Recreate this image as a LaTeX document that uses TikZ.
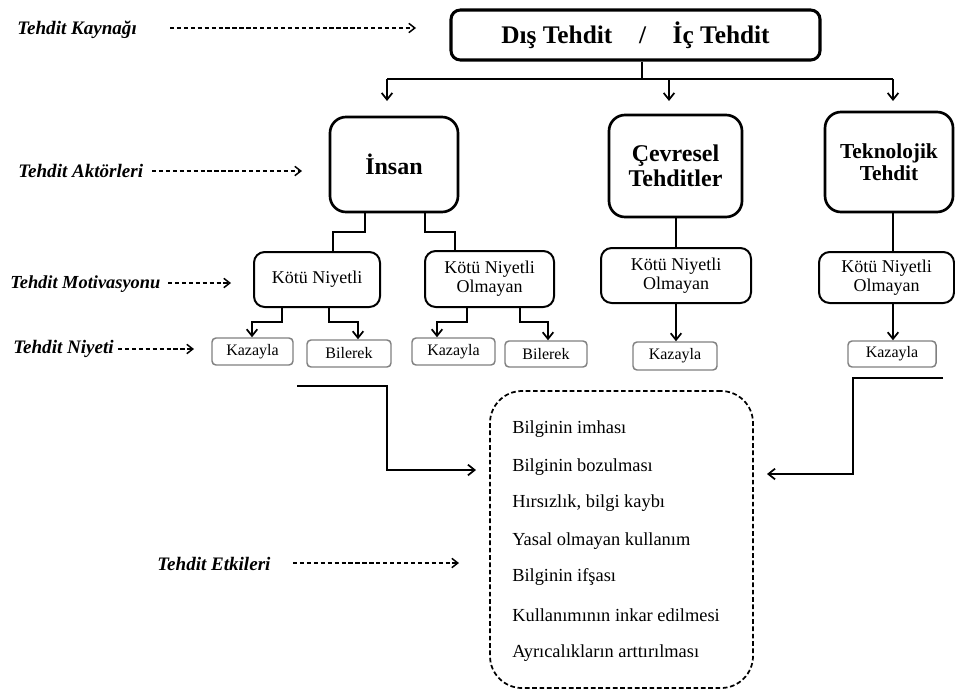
\documentclass[tikz,border=0pt]{standalone}
\usepackage{fontspec}
\setmainfont{Liberation Serif}
\usetikzlibrary{arrows.meta,calc}
\begin{document}
\begin{tikzpicture}[x=0.75pt,y=-0.75pt,
  conn/.style={line width=1.5pt,line join=miter},
  arr/.style={conn,-{Straight Barb[length=5pt,width=8pt,line width=1.3pt]}},
  dasharr/.style={line width=1.1pt,dash pattern=on 3.2pt off 2pt,-{Straight Barb[length=4.5pt,width=7pt,line width=1.1pt]}},
  titlebox/.style={draw,line width=2.3pt,rounded corners=7pt,inner sep=0pt,font=\fontsize{19}{21}\selectfont\bfseries},
  actorbox/.style={draw,line width=2pt,rounded corners=12pt,inner sep=0pt,align=center},
  motbox/.style={draw,line width=1.5pt,rounded corners=8pt,inner sep=0pt,align=center,font=\fontsize{13.5}{14.5}\selectfont},
  intbox/.style={draw=black!50,line width=1.1pt,rounded corners=3pt,inner sep=0pt,font=\fontsize{12}{13}\selectfont},
  effbox/.style={draw,line width=1.3pt,dash pattern=on 3.5pt off 2pt,rounded corners=24pt,inner sep=0pt},
  efftext/.style={anchor=west,inner sep=0pt,font=\fontsize{13.8}{15}\selectfont},
  lab/.style={anchor=west,inner sep=0pt,font=\fontsize{14.3}{15}\selectfont\bfseries\itshape}]
\useasboundingbox (0,0) rectangle (955,693);

% ---- main boxes
\node[titlebox,minimum width=276.75pt,minimum height=37.5pt] (title) at (635.5,35) {Dış Tehdit\hspace{20pt}/\hspace{20pt}İç Tehdit};
\node[actorbox,minimum width=96pt,minimum height=71.25pt,font=\fontsize{18}{20}\selectfont\bfseries] (insan) at (394,164.5) {İnsan};
\node[actorbox,minimum width=99.75pt,minimum height=76.5pt,font=\fontsize{18}{19}\selectfont\bfseries] (cev) at (675.5,166) {Çevresel\\Tehditler};
\node[actorbox,minimum width=96pt,minimum height=75pt,font=\fontsize{16}{16.5}\selectfont\bfseries] (tek) at (889,162) {Teknolojik\\Tehdit};

\node[motbox,minimum width=94.5pt,minimum height=41.25pt] (kn) at (317,279.5) {Kötü Niyetli};
\node[motbox,minimum width=96.75pt,minimum height=42pt] (kno1) at (489.5,279) {Kötü Niyetli\\Olmayan};
\node[motbox,minimum width=112.5pt,minimum height=41.25pt] (kno3) at (676,275.5) {Kötü Niyetli\\Olmayan};
\node[motbox,minimum width=101.25pt,minimum height=38.25pt] (kno4) at (886.5,277.5) {Kötü Niyetli\\Olmayan};

\node[intbox,minimum width=60.75pt,minimum height=20.25pt] (kaz1) at (252.5,351.5) {Kazayla};
\node[intbox,minimum width=63pt,minimum height=20.25pt] (bil1) at (349,353.5) {Bilerek};
\node[intbox,minimum width=62.25pt,minimum height=20.25pt] (kaz2) at (453.5,351.5) {Kazayla};
\node[intbox,minimum width=61.5pt,minimum height=19.5pt] (bil2) at (546,354) {Bilerek};
\node[intbox,minimum width=63pt,minimum height=21pt] (kaz3) at (675,356) {Kazayla};
\node[intbox,minimum width=66pt,minimum height=19.5pt] (kaz4) at (892,354) {Kazayla};

\node[effbox,minimum width=197.25pt,minimum height=222.75pt] (eff) at (621.5,539.5) {};
\node[efftext] (e1) at (512,429) {Bilginin imhası};
\node[efftext] (e2) at (512,467) {Bilginin bozulması};
\node[efftext] (e3) at (512,503) {Hırsızlık, bilgi kaybı};
\node[efftext] (e4) at (512,541) {Yasal olmayan kullanım};
\node[efftext] (e5) at (512,577) {Bilginin ifşası};
\node[efftext] (e6) at (512,615) {Kullanımının inkar edilmesi};
\node[efftext] (e7) at (512,653) {Ayrıcalıkların arttırılması};

% ---- left labels
\node[lab] (l1) at (17,30) {Tehdit Kaynağı};
\node[lab] (l2) at (18,171) {Tehdit Aktörleri};
\node[lab,font=\fontsize{13.8}{15}\selectfont\bfseries\itshape] (l3) at (10,284) {Tehdit Motivasyonu};
\node[lab] (l4) at (13,349) {Tehdit Niyeti};
\node[lab] (l5) at (157,564) {Tehdit Etkileri};

\coordinate (la1) at (170,28);  \coordinate (lb1) at (416,28);
\coordinate (la2) at (152,171); \coordinate (lb2) at (302,171);
\coordinate (la3) at (168,283); \coordinate (lb3) at (231,283);
\coordinate (la4) at (118,349); \coordinate (lb4) at (194,349);
\coordinate (la5) at (293,563); \coordinate (lb5) at (459,563);
\draw[dasharr] (la1) -- (lb1);
\draw[dasharr] (la2) -- (lb2);
\draw[dasharr] (la3) -- (lb3);
\draw[dasharr] (la4) -- (lb4);
\draw[dasharr] (la5) -- (lb5);

% ---- title to actors
\coordinate (j0) at (642,79);
\coordinate (a1) at (387,101);
\coordinate (a2) at (669,101);
\coordinate (a3) at (893,101);
\draw[conn] (title.south -| j0) -- (j0);
\draw[conn] (a1 |- j0) -- (a3 |- j0);
\draw[arr] (a1 |- j0) -- (a1);
\draw[arr] (a2 |- j0) -- (a2);
\draw[arr] (a3 |- j0) -- (a3);

% ---- insan to motivations
\coordinate (c1) at (365,232); \coordinate (c2) at (333,232);
\coordinate (c3) at (425,232); \coordinate (c4) at (455,232);
\draw[conn] (insan.south -| c1) -- (c1) -- (c2) -- (kn.north -| c2);
\draw[conn] (insan.south -| c3) -- (c3) -- (c4) -- (kno1.north -| c4);

% ---- motivations to intents
\coordinate (d1) at (282,322); \coordinate (d2) at (252,322);
\coordinate (d3) at (329,322); \coordinate (d4) at (358,322);
\coordinate (d5) at (467,322); \coordinate (d6) at (437,322);
\coordinate (d7) at (520,322); \coordinate (d8) at (548,322);
\draw[arr] (kn.south -| d1) -- (d1) -- (d2) -- (kaz1.north -| d2);
\draw[arr] (kn.south -| d3) -- (d3) -- (d4) -- (bil1.north -| d4);
\draw[arr] (kno1.south -| d5) -- (d5) -- (d6) -- (kaz2.north -| d6);
\draw[arr] (kno1.south -| d7) -- (d7) -- (d8) -- (bil2.north -| d8);

\coordinate (x3) at (676,0);
\coordinate (x4) at (893,0);
\draw[conn] (cev.south -| x3) -- (kno3.north -| x3);
\draw[arr] (kno3.south -| x3) -- (kaz3.north -| x3);
\draw[conn] (tek.south -| x4) -- (kno4.north -| x4);
\draw[arr] (kno4.south -| x4) -- (kaz4.north -| x4);

% ---- into effects
\coordinate (p1) at (297,386); \coordinate (p2) at (387,386);
\coordinate (p3) at (387,470); \coordinate (p4) at (476,470);
\draw[arr] (p1) -- (p2) -- (p3) -- (p4);
\coordinate (q1) at (943,378); \coordinate (q2) at (853,378);
\coordinate (q3) at (853,474); \coordinate (q4) at (767,474);
\draw[arr] (q1) -- (q2) -- (q3) -- (q4);
\end{tikzpicture}
\end{document}
